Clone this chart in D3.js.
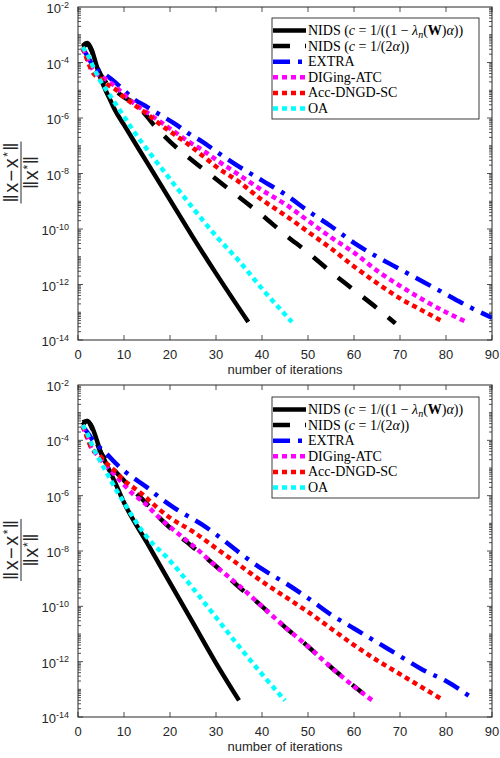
<!DOCTYPE html>
<html>
<head>
<meta charset="utf-8">
<script src="https://cdn.jsdelivr.net/npm/d3@7"></script>
<style>
  html, body { margin: 0; padding: 0; background: #fff; }
  svg { display: block; }
  .tick-label { font-family: "Liberation Sans", Arial, sans-serif; font-size: 13px; fill: #262626; }
  .legend-text { font-family: "Liberation Serif", "DejaVu Serif", serif; font-size: 14px; fill: #000; }
</style>
</head>
<body>
<div id="chart"></div>
<script>
// legend labels, in plot order
const seriesNames = ['nidsA', 'nidsB', 'extra', 'diging', 'acc', 'oa'];
const xTicks = [0, 10, 20, 30, 40, 50, 60, 70, 80, 90];
const yTickExps = [-2, -4, -6, -8, -10, -12, -14];

// values are [iteration, log10(relative error)]
// --- top panel
const topNidsA = [[1, -3.4], [2, -3.3], [3, -3.55], [4, -4.1], [5, -4.6], [6, -5.0], [7, -5.35], [8, -5.7],
  [10, -6.25], [15, -7.6], [20, -8.95], [25, -10.3], [30, -11.6], [37, -13.35]];
const topNidsB = [[1, -3.45], [2, -3.35], [3, -3.6], [4, -4.1], [5, -4.45], [6, -4.7], [8, -5.0], [10, -5.25],
  [12, -5.45], [14, -5.75], [17, -6.35], [20, -6.85], [25, -7.55], [30, -8.2], [35, -8.85], [40, -9.5],
  [45, -10.2], [50, -10.85], [55, -11.55], [60, -12.2], [65, -12.85], [69, -13.4]];
const topExtra = [[1, -3.5], [2, -3.75], [3, -4.05], [4, -4.25], [5, -4.35], [6, -4.45], [8, -4.7], [10, -5.0],
  [12, -5.3], [15, -5.6], [18, -5.9], [21, -6.2], [24, -6.55], [27, -6.85], [30, -7.2], [35, -7.75],
  [40, -8.25], [45, -8.75], [50, -9.35], [55, -9.9], [60, -10.5], [65, -11.0], [70, -11.45], [75, -11.9],
  [80, -12.35], [85, -12.8], [90, -13.2]];
const topDiging = [[1, -3.5], [2, -3.85], [3, -4.2], [4, -4.4], [5, -4.5], [6, -4.6], [8, -4.85], [10, -5.15],
  [12, -5.45], [15, -5.8], [18, -6.15], [21, -6.5], [24, -6.85], [27, -7.15], [30, -7.5], [35, -8.05],
  [40, -8.6], [45, -9.1], [50, -9.7], [55, -10.3], [60, -10.85], [65, -11.5], [70, -12.05], [75, -12.55],
  [80, -13.0], [84.5, -13.35]];
const topAcc = [[1, -3.45], [2, -3.9], [3, -4.3], [4, -4.5], [5, -4.6], [6, -4.75], [8, -4.95], [10, -5.25],
  [12, -5.5], [15, -5.85], [18, -6.25], [21, -6.6], [24, -6.95], [27, -7.35], [30, -7.75], [35, -8.3],
  [40, -8.95], [45, -9.5], [50, -10.1], [55, -10.7], [60, -11.35], [65, -11.95], [70, -12.5], [75, -12.95],
  [79.5, -13.35]];
const topOa = [[1, -3.45], [2, -3.7], [3, -4.05], [4, -4.4], [5, -4.7], [6, -4.95], [7, -5.2], [8, -5.45],
  [10, -5.95], [12, -6.45], [16, -7.35], [20, -8.2], [25, -9.25], [30, -10.25], [35, -11.15], [40, -12.15],
  [46.5, -13.35]];

// --- bottom panel
const botNidsA = [[1, -3.35], [2, -3.3], [3, -3.5], [4, -3.95], [5, -4.45], [6, -4.8], [7, -5.15], [8, -5.5],
  [10, -6.25], [15, -7.7], [20, -9.15], [25, -10.6], [30, -12.05], [35, -13.4]];
const botNidsB = [[1, -3.45], [2, -3.3], [3, -3.55], [4, -4.05], [5, -4.45], [6, -4.7], [7, -4.9], [8, -5.1],
  [10, -5.45], [12, -5.8], [15, -6.3], [18, -6.85], [22, -7.45], [26, -8.0], [30, -8.55], [35, -9.3],
  [40, -10.0], [45, -10.75], [50, -11.45], [55, -12.2], [62, -13.15]];
const botExtra = [[1, -3.5], [2, -3.7], [3, -3.95], [4, -4.15], [5, -4.3], [6, -4.45], [8, -4.8], [10, -5.1],
  [12, -5.35], [15, -5.7], [18, -6.1], [21, -6.45], [24, -6.75], [27, -7.05], [30, -7.4], [35, -8.05],
  [40, -8.65], [45, -9.15], [50, -9.7], [55, -10.3], [60, -10.8], [65, -11.3], [70, -11.8], [75, -12.3],
  [80, -12.7], [86, -13.35]];
const botDiging = [[1, -3.5], [2, -3.9], [3, -4.3], [4, -4.5], [5, -4.7], [6, -4.9], [8, -5.25], [10, -5.6],
  [12, -5.95], [14, -6.2], [18, -6.85], [22, -7.4], [26, -7.95], [30, -8.55], [35, -9.25], [40, -10.0],
  [45, -10.75], [50, -11.45], [55, -12.2], [60, -12.9], [64, -13.4]];
const botAcc = [[1, -3.45], [2, -3.9], [3, -4.3], [4, -4.45], [5, -4.6], [6, -4.8], [8, -5.1], [10, -5.45],
  [12, -5.7], [14, -5.95], [17, -6.4], [20, -6.8], [25, -7.3], [30, -7.9], [35, -8.5], [40, -9.1],
  [45, -9.65], [50, -10.2], [55, -10.8], [60, -11.4], [65, -11.95], [70, -12.45], [75, -12.95], [79, -13.35]];
const botOa = [[1, -3.45], [2, -3.75], [3, -4.15], [4, -4.5], [5, -4.8], [6, -5.1], [7, -5.4], [8, -5.7],
  [10, -6.25], [12, -6.8], [15, -7.5], [20, -8.35], [25, -9.35], [30, -10.4], [35, -11.45], [40, -12.45],
  [45, -13.4]];

const topSeries = [topNidsA, topNidsB, topExtra, topDiging, topAcc, topOa];
const botSeries = [botNidsA, botNidsB, botExtra, botDiging, botAcc, botOa];

// line styles (MATLAB-ish)
const styles = {
  nidsA: { color: '#000000', dash: null },
  nidsB: { color: '#000000', dash: '17,15' },
  extra: { color: '#0000ff', dash: '17,8,4,8' },
  diging: { color: '#ff00ff', dash: '5,4' },
  acc: { color: '#ff0000', dash: '5,4' },
  oa: { color: '#00ffff', dash: '5,4' }
};

const width = 500, height = 758;
const axisColor = '#262626';

const svg = d3.select('#chart').append('svg')
  .attr('width', width)
  .attr('height', height)
  .attr('viewBox', [0, 0, width, height]);

const x = d3.scaleLinear().domain([0, 90]).range([78, 492]);

function legendLabel(text, key) {
  // builds the latex-ish legend entries with tspans
  const t = (s, o = {}) => text.append('tspan').text(s)
    .attr('font-style', o.it ? 'italic' : null)
    .attr('font-weight', o.bf ? 'bold' : null)
    .attr('baseline-shift', o.sub ? '-25%' : null)
    .attr('font-size', o.sub ? '10px' : null);
  if (key === 'nidsA') {
    t('NIDS ('); t('c', { it: true }); t(' = 1/((1 \u2212 '); t('\u03bb', { it: true });
    t('n', { it: true, sub: true }); t('('); t('W', { bf: true }); t(')'); t('\u03b1', { it: true }); t('))');
  } else if (key === 'nidsB') {
    t('NIDS ('); t('c', { it: true }); t(' = 1/(2'); t('\u03b1', { it: true }); t('))');
  } else if (key === 'extra') t('EXTRA');
  else if (key === 'diging') t('DIGing-ATC');
  else if (key === 'acc') t('Acc-DNGD-SC');
  else t('OA');
}

function drawPanel(top, bottom, series, legendTop, id) {
  const y = d3.scaleLog().domain([1e-14, 1e-2]).range([bottom, top]);
  const g = svg.append('g');

  svg.append('clipPath').attr('id', 'clip' + id)
    .append('rect').attr('x', x(0)).attr('y', top).attr('width', x(90) - x(0)).attr('height', bottom - top);

  // minor + major ticks on the log axis
  const ticks = g.append('g').attr('stroke', axisColor).attr('stroke-width', 0.8);
  for (let k = -14; k < -2; k++) {
    for (let j = 1; j <= 9; j++) {
      const v = j * Math.pow(10, k);
      const major = j === 1 && k % 2 === 0;
      const len = major ? 5 : 3;
      ticks.append('line').attr('x1', x(0)).attr('x2', x(0) + len).attr('y1', y(v)).attr('y2', y(v));
      ticks.append('line').attr('x1', x(90)).attr('x2', x(90) - len).attr('y1', y(v)).attr('y2', y(v));
    }
  }
  xTicks.forEach(t => {
    ticks.append('line').attr('x1', x(t)).attr('x2', x(t)).attr('y1', bottom).attr('y2', bottom - 5);
    ticks.append('line').attr('x1', x(t)).attr('x2', x(t)).attr('y1', top).attr('y2', top + 5);
  });

  // tick labels
  xTicks.forEach(t => {
    g.append('text').attr('class', 'tick-label')
      .attr('x', x(t)).attr('y', bottom + 19).attr('text-anchor', 'middle').text(t);
  });
  yTickExps.forEach(e => {
    const txt = g.append('text').attr('class', 'tick-label')
      .attr('x', 69).attr('y', y(Math.pow(10, e)) + 6).attr('text-anchor', 'end');
    txt.append('tspan').text('10');
    txt.append('tspan').attr('dy', -5.5).attr('font-size', '9px').text(String(e));
  });

  g.append('text').attr('class', 'tick-label')
    .attr('x', (x(0) + x(90)) / 2).attr('y', bottom + 34).attr('text-anchor', 'middle')
    .text('number of iterations');

  // y label: ||x - x*|| / ||x*||
  const yl = g.append('g').attr('transform', `translate(21,${(top + bottom) / 2 - 1}) rotate(-90)`)
    .style('font-family', '"Liberation Sans", Arial, sans-serif').style('font-size', '20px').attr('fill', axisColor);
  const num = yl.append('text').attr('y', -3).attr('text-anchor', 'middle')
    .attr('textLength', 60).attr('lengthAdjust', 'spacing');
  num.append('tspan').text('\u2016x\u2212x');
  num.append('tspan').attr('dy', -6).attr('font-size', '12px').text('*');
  num.append('tspan').attr('dy', 6).text('\u2016');
  const den = yl.append('text').attr('y', 17).attr('text-anchor', 'middle')
    .attr('textLength', 33).attr('lengthAdjust', 'spacing');
  den.append('tspan').text('\u2016x');
  den.append('tspan').attr('dy', -6).attr('font-size', '12px').text('*');
  den.append('tspan').attr('dy', 6).text('\u2016');
  yl.append('line').attr('x1', -31).attr('x2', 31).attr('y1', 0).attr('y2', 0)
    .attr('stroke', axisColor).attr('stroke-width', 1);

  // curves
  const line = d3.line()
    .x(d => x(d[0]))
    .y(d => y(Math.pow(10, d[1])))
    .curve(d3.curveMonotoneX);

  const curves = svg.append('g').attr('clip-path', `url(#clip${id})`);
  series.forEach((s, i) => {
    const st = styles[seriesNames[i]];
    curves.append('path')
      .attr('d', line(s))
      .attr('fill', 'none')
      .attr('stroke', st.color)
      .attr('stroke-width', 4.5)
      .attr('stroke-dasharray', st.dash)
      .attr('stroke-linejoin', 'round');
  });

  // axes box
  svg.append('rect').attr('x', x(0)).attr('y', top).attr('width', x(90) - x(0)).attr('height', bottom - top)
    .attr('fill', 'none').attr('stroke', axisColor).attr('stroke-width', 1);

  // legend
  const lg = svg.append('g');
  lg.append('rect').attr('x', 272).attr('y', legendTop).attr('width', 207).attr('height', 101)
    .attr('fill', '#fff').attr('stroke', axisColor).attr('stroke-width', 0.9);
  seriesNames.forEach((key, i) => {
    const ry = legendTop + 12.5 + i * 15.6;
    const st = styles[key];
    lg.append('line').attr('x1', 273).attr('x2', 306).attr('y1', ry).attr('y2', ry)
      .attr('stroke', st.color).attr('stroke-width', 4.5).attr('stroke-dasharray', st.dash);
    const txt = lg.append('text').attr('class', 'legend-text').attr('x', 308).attr('y', ry + 4.5);
    legendLabel(txt, key);
    // keep the long entry inside the box
    if (key === 'nidsA' && txt.node().getComputedTextLength() > 164) {
      txt.attr('textLength', 164).attr('lengthAdjust', 'spacingAndGlyphs');
    }
  });
}

drawPanel(7, 340, topSeries, 18, 'Top');
drawPanel(385, 717, botSeries, 397, 'Bot');
</script>
</body>
</html>
